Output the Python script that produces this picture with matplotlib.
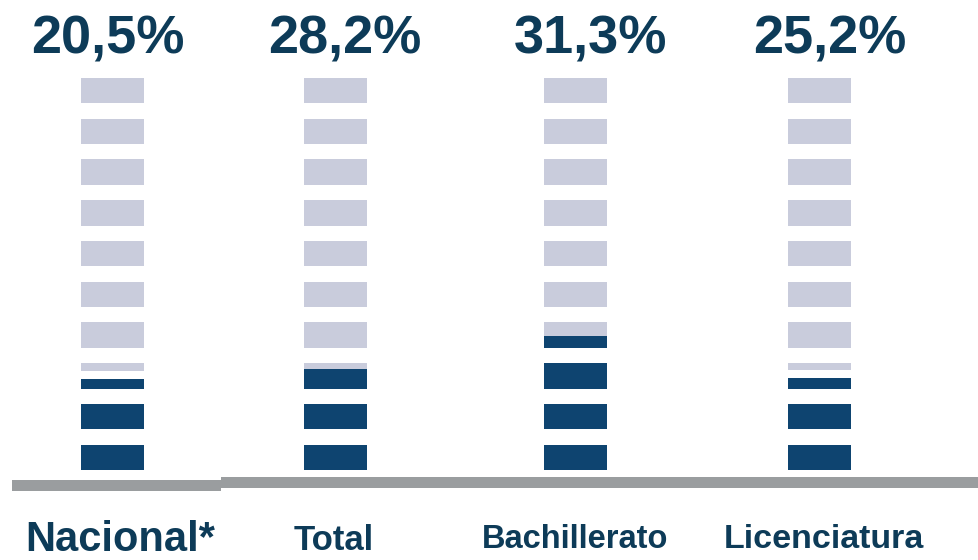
import math
import matplotlib
matplotlib.use("Agg")
import matplotlib.pyplot as plt
from matplotlib import font_manager

# ---- data ----
categories = ["Nacional*", "Total", "Bachillerato", "Licenciatura"]
pct_labels = ["20,5%", "28,2%", "31,3%", "25,2%"]
# level of dark fill, in segments (each segment = 10%), as drawn in the picture
dark_level = [2.37, 2.78, 3.46, 2.40]
# where the light part of the partial segment starts (segment units)
light_from = [2.69, 2.78, 3.46, 2.73]
n_segments = 10

# ---- layout / style ----
W, H, DPI = 979, 560, 100
col_x = [113, 336, 576, 820]
pct_x = [108, 345, 591, 830]
lab_x = [120, 334, 575, 824]
lab_size = [30, 25, 23.5, 24.5]
col_w = 63
seg_h = 0.62
px_per_unit = 40.75
base_px = 470
light = "#c9ccdc"
dark = "#0e4470"
txt = "#0d3b58"
grey = "#9a9d9f"

names = {f.name for f in font_manager.fontManager.ttflist}
narrow = "Liberation Sans Narrow" if "Liberation Sans Narrow" in names else "Liberation Sans"

def u(py):
    return (base_px - py) / px_per_unit

fig = plt.figure(figsize=(W / DPI, H / DPI), dpi=DPI)
ax = fig.add_axes([0, 0, 1, 1])
ax.set_xlim(0, W)
ax.set_ylim(u(H), u(0))
ax.axis("off")

for i, x in enumerate(col_x):
    dl = dark_level[i]
    lf = light_from[i]
    full = int(math.floor(dl))
    for k in range(n_segments):
        if k < full:
            ax.bar(x, seg_h, bottom=k, width=col_w, color=dark, linewidth=0)
        elif k == full:
            dh = (dl - k) * seg_h
            ax.bar(x, dh, bottom=k, width=col_w, color=dark, linewidth=0)
            lb = k + (lf - k) * seg_h
            ax.bar(x, k + seg_h - lb, bottom=lb, width=col_w, color=light, linewidth=0)
        else:
            ax.bar(x, seg_h, bottom=k, width=col_w, color=light, linewidth=0)

# base line (two pieces, slightly offset)
ax.fill_between([12, 221], u(491), u(480), color=grey, linewidth=0)
ax.fill_between([221, W], u(488), u(477), color=grey, linewidth=0)

for i in range(len(categories)):
    ax.text(pct_x[i], u(40), pct_labels[i], ha="center", va="center",
            fontsize=39, fontweight="bold", family=narrow, color=txt)
    fam = "Liberation Sans" if i == 0 else narrow
    ax.text(lab_x[i], u(540), categories[i], ha="center", va="center",
            fontsize=lab_size[i], fontweight="bold", family=fam, color=txt)

fig.savefig("out.png", dpi=DPI, facecolor="white")
